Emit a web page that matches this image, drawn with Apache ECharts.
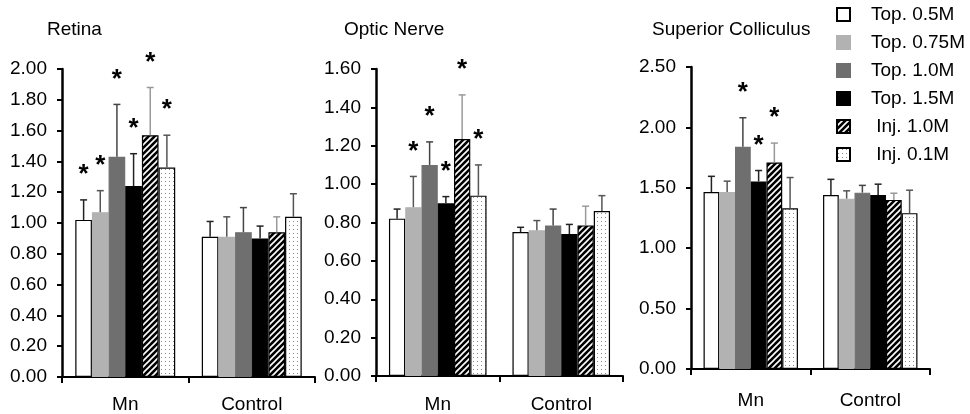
<!DOCTYPE html>
<html>
<head>
<meta charset="utf-8">
<title>Mn uptake</title>
<script src="https://cdn.jsdelivr.net/npm/echarts@6/dist/echarts.min.js"></script>
<style>
  html, body { margin: 0; padding: 0; background: #fff; }
  #main { width: 970px; height: 414px; }
</style>
</head>
<body>
<div id="main"></div>
<script>
// categories and series
var groups = ['Mn', 'Control'];
var seriesNames = ['Top. 0.5M', 'Top. 0.75M', 'Top. 1.0M', 'Top. 1.5M', ' Inj. 1.0M', ' Inj. 0.1M'];
var panelTitles = ['Retina', 'Optic Nerve', 'Superior Colliculus'];

// means, one row per series: [Mn, Control]
var retinaMean = [[1.02, 0.91], [1.07, 0.91], [1.43, 0.94], [1.24, 0.90], [1.57, 0.94], [1.36, 1.04]];
var retinaErr  = [[0.13, 0.10], [0.14, 0.13], [0.34, 0.16], [0.21, 0.08], [0.31, 0.10], [0.21, 0.15]];
var retinaSig  = [[1, 0], [1, 0], [1, 0], [1, 0], [1, 0], [1, 0]];

var opticMean = [[0.82, 0.75], [0.88, 0.76], [1.10, 0.785], [0.90, 0.74], [1.235, 0.785], [0.94, 0.86]];
var opticErr  = [[0.05, 0.025], [0.16, 0.05], [0.12, 0.085], [0.035, 0.05], [0.23, 0.10], [0.16, 0.08]];
var opticSig  = [[0, 0], [1, 0], [1, 0], [1, 0], [1, 0], [1, 0]];

var scMean = [[1.465, 1.44], [1.465, 1.41], [1.84, 1.46], [1.553, 1.44], [1.71, 1.40], [1.33, 1.29]];
var scErr  = [[0.13, 0.13], [0.09, 0.065], [0.24, 0.06], [0.09, 0.09], [0.16, 0.055], [0.255, 0.19]];
var scSig  = [[0, 0], [0, 0], [1, 0], [1, 0], [1, 0], [0, 0]];

// y axis scales
var yMax = [2.0, 1.6, 2.5];
var yStep = [0.2, 0.2, 0.5];

var GAP = 0.21;

function hatchPattern() {
    var c = document.createElement('canvas');
    c.width = 6; c.height = 6;
    var ctx = c.getContext('2d');
    ctx.fillStyle = '#000';
    ctx.fillRect(0, 0, 6, 6);
    ctx.strokeStyle = '#fff';
    ctx.lineWidth = 1.6;
    ctx.beginPath();
    ctx.moveTo(-1, 7); ctx.lineTo(7, -1);
    ctx.moveTo(-4, 4); ctx.lineTo(4, -4);
    ctx.moveTo(2, 10); ctx.lineTo(10, 2);
    ctx.stroke();
    return c;
}
function dotPattern() {
    var c = document.createElement('canvas');
    c.width = 4; c.height = 4;
    var ctx = c.getContext('2d');
    ctx.fillStyle = '#fff';
    ctx.fillRect(0, 0, 4, 4);
    ctx.fillStyle = '#8a8a8a';
    ctx.fillRect(1, 1, 1, 1);
    return c;
}

var fills = ['#ffffff', '#b2b2b2', '#6f6f6f', '#000000',
    { image: hatchPattern(), repeat: 'repeat' },
    { image: dotPattern(), repeat: 'repeat' }];
var borders = ['#000', '#b2b2b2', '#6f6f6f', '#000', '#000', '#000'];
var errColors = ['#222', '#555', '#444', '#222', '#999', '#555'];

var panels = [
    { mean: retinaMean, err: retinaErr, sig: retinaSig },
    { mean: opticMean, err: opticErr, sig: opticSig },
    { mean: scMean, err: scErr, sig: scSig }
];

var grids = [
    { left: 62, top: 69, width: 253, height: 309 },
    { left: 376, top: 69, width: 247, height: 308 },
    { left: 691, top: 67, width: 239, height: 302 }
];
var titleLeft = [42, 339, 647];
var catMargin = [18, 19, 22];

var FONT = 'Arial, "Liberation Sans", sans-serif';

var xAxes = [], yAxes = [], series = [], titles = [];
panels.forEach(function (p, k) {
    titles.push({
        text: panelTitles[k], left: titleLeft[k], top: 15,
        textStyle: { fontFamily: FONT, fontSize: 19, fontWeight: 'normal', color: '#000' }
    });
    xAxes.push({
        type: 'category', gridIndex: k, data: groups,
        axisLine: { lineStyle: { color: '#000', width: 2 } },
        axisTick: { show: true, length: 6, lineStyle: { color: '#000', width: 2 } },
        axisLabel: { color: '#000', fontSize: 19, fontFamily: FONT, margin: catMargin[k] }
    });
    yAxes.push({
        type: 'value', gridIndex: k, min: 0, max: yMax[k], interval: yStep[k],
        axisLine: { show: true, lineStyle: { color: '#000', width: 2.5 } },
        axisTick: { show: true, length: 5, lineStyle: { color: '#000', width: 2 } },
        splitLine: { show: false },
        axisLabel: {
            color: '#000', fontSize: 19, fontFamily: FONT, margin: 15,
            formatter: function (v) { return v.toFixed(2); }
        }
    });
    for (var s = 0; s < 6; s++) {
        series.push({
            name: seriesNames[s], type: 'bar', xAxisIndex: k, yAxisIndex: k,
            data: p.mean[s], barGap: '0%', barCategoryGap: (GAP * 100) + '%',
            itemStyle: { color: fills[s], borderColor: borders[s], borderWidth: 1.2 },
            emphasis: { disabled: true },
            z: 2
        });
    }
    // error bars and significance marks
    var errData = [];
    for (var s2 = 0; s2 < 6; s2++) {
        for (var c = 0; c < groups.length; c++) {
            errData.push([c, s2, p.mean[s2][c], p.err[s2][c], p.sig[s2][c]]);
        }
    }
    series.push({
        type: 'custom', xAxisIndex: k, yAxisIndex: k, z: 5,
        data: errData,
        encode: { x: 0, y: 2 },
        silent: true,
        renderItem: function (params, api) {
            var c = api.value(0), s = api.value(1), m = api.value(2), sd = api.value(3), sig = api.value(4);
            var band = api.size([1, 0])[0];
            var bw = band * (1 - GAP) / 6;
            var cx = api.coord([c, 0])[0] - 3 * bw + (s + 0.5) * bw;
            var y0 = api.coord([c, m])[1];
            var y1 = api.coord([c, m + sd])[1];
            var col = errColors[s];
            var kids = [
                { type: 'line', shape: { x1: cx, y1: y0, x2: cx, y2: y1 }, style: { stroke: col, lineWidth: 1.5 } },
                { type: 'line', shape: { x1: cx - 3.5, y1: y1, x2: cx + 3.5, y2: y1 }, style: { stroke: col, lineWidth: 1.5 } }
            ];
            if (sig) {
                kids.push({
                    type: 'text',
                    style: {
                        text: '*', x: cx, y: y1 - 25, align: 'center', verticalAlign: 'middle',
                        font: 'bold 26px ' + FONT, fill: '#000'
                    }
                });
            }
            return { type: 'group', children: kids };
        }
    });
});

var chart = echarts.init(document.getElementById('main'));
chart.setOption({
    animation: false,
    backgroundColor: '#fff',
    title: titles,
    grid: grids,
    xAxis: xAxes,
    yAxis: yAxes,
    legend: {
        data: seriesNames, orient: 'vertical', left: 836, top: 5,
        itemWidth: 13, itemHeight: 13, itemGap: 9, padding: 0,
        icon: 'rect',
        textStyle: { fontSize: 19, fontFamily: FONT, color: '#000', padding: [0, 0, 0, 16] }
    },
    series: series
});
</script>
</body>
</html>
